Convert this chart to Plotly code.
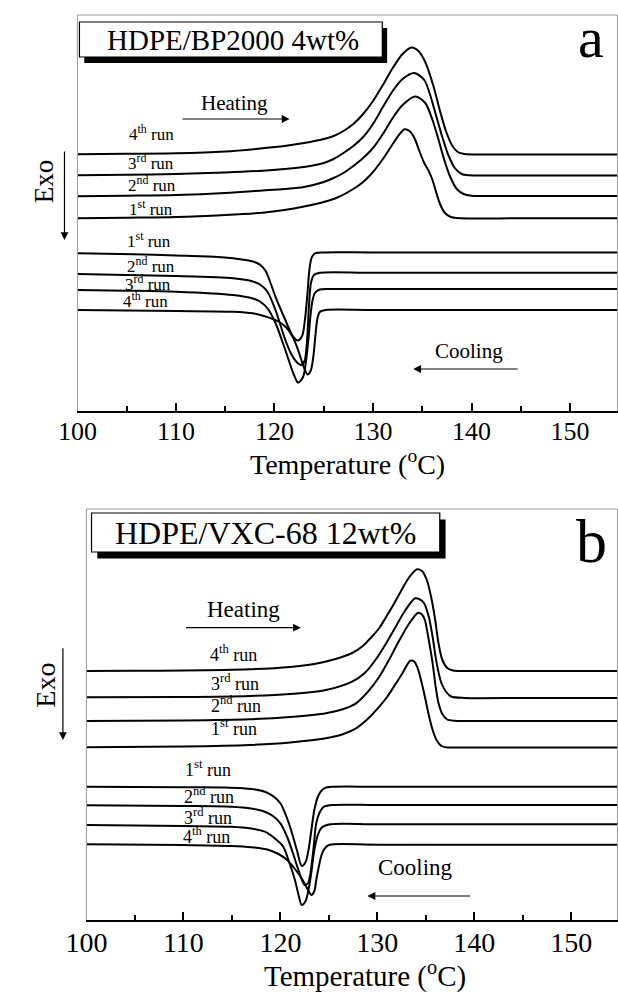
import plotly.graph_objects as go

W, H = 618, 993

# ---------------- Panel a : HDPE/BP2000 4wt% (heat flow, a.u.) ----------------
a_heat4_T = [100, 105, 110, 115, 118.8, 121, 123, 125, 126, 127, 128, 129, 130, 131, 132, 133, 133.9, 134.6, 135.3, 136.1, 136.8, 137.4, 138.0, 138.6, 139.3, 140.5, 145, 155]
a_heat4_y = [256.7, 257.2, 257.7, 259.5, 262.7, 265, 268, 272, 275, 280, 287, 297, 310, 326, 343, 357, 363.5, 360, 349, 326, 300, 280, 266, 259, 257, 256.5, 256.5, 256.5]
a_heat3_T = [100, 105, 110, 115, 118.8, 121, 123, 125, 126, 127, 128, 129, 130, 131, 132, 133, 134.2, 135.2, 135.8, 136.3, 137.0, 137.6, 138.3, 139.0, 139.8, 141, 145, 155]
a_heat3_y = [235.7, 236.3, 237, 238.5, 240.3, 242, 244, 248, 252, 258, 265, 274, 287, 304, 320, 332, 338, 331, 316, 299, 275, 257, 243, 237, 235.7, 235.5, 235.5, 235.5]
a_heat2_T = [100, 105, 110, 115, 118.8, 121, 123, 125, 126, 127, 128, 129, 130, 131, 132, 133, 134.3, 135.3, 136.0, 136.6, 137.2, 137.8, 138.5, 139.2, 140, 141, 145, 155]
a_heat2_y = [214.7, 215.3, 216, 218, 220.5, 222, 224, 229, 233, 238, 245, 253, 263, 277, 293, 306, 314.5, 308, 292, 273, 252, 235, 222, 217, 215.3, 215, 215, 215]
a_heat1_T = [100, 105, 110, 115, 118.8, 121, 123, 125, 126.5, 128, 129, 130, 131, 132, 132.7, 133.2, 133.7, 134.2, 134.7, 135.2, 135.6, 136.0, 136.4, 136.8, 137.3, 137.9, 138.9, 145, 155]
a_heat1_y = [192.7, 193.3, 194, 196, 198.3, 201, 204.5, 209, 214, 222, 229, 239, 252, 267, 277, 281.7, 280, 273, 260, 248, 241, 232, 219, 207, 198, 194, 192.7, 192.7, 192.7]

a_cool1_T = [100, 105.7, 110, 113.9, 115.8, 117.8, 118.5, 119.1, 119.6, 120.1, 121.1, 121.9, 122.35, 122.8, 123.1, 123.35, 123.55, 123.8, 124.2, 125, 130, 155]
a_cool1_y = [157.7, 156.7, 155.5, 154.3, 152.7, 149.5, 146.5, 140, 128, 114.3, 91, 74.3, 70.5, 75, 92, 118, 142, 154, 158, 158.6, 158.6, 158.6]
a_cool2_T = [100, 105, 110, 115.8, 117.8, 118.6, 119.3, 120.1, 121.1, 121.7, 122.2, 122.7, 123.05, 123.3, 123.5, 123.7, 124.0, 124.6, 130, 155]
a_cool2_y = [137, 136, 135, 132.7, 129.5, 126, 119, 101, 71, 57, 49.5, 46, 50, 70, 105, 128, 136, 138.3, 138.3, 138.3]
a_cool3_T = [100, 105, 110, 115.8, 117.8, 118.6, 119.3, 120.1, 121.1, 121.9, 122.4, 122.9, 123.2, 123.45, 123.65, 123.85, 124.1, 124.6, 125.5, 130, 155]
a_cool3_y = [121, 120.3, 119.3, 116, 112.5, 109, 102.5, 88, 61, 38, 28.3, 34, 50, 72, 95, 110, 118, 121.5, 122, 122, 122]
a_cool4_T = [100, 105, 110, 115.8, 117.8, 119.1, 120.4, 121.2, 121.8, 122.4, 122.9, 123.35, 123.7, 123.95, 124.15, 124.35, 124.6, 125.2, 130, 155]
a_cool4_y = [101, 100.6, 100, 99.3, 97.7, 94.5, 89.5, 83.5, 75, 61, 46, 36.5, 41, 55, 75, 92, 99, 101, 101, 101]

# ---------------- Panel b : HDPE/VXC-68 12wt% (heat flow, a.u.) ----------------
b_heat4_T = [100, 105, 110, 116.8, 121, 123.5, 125.5, 127.4, 128.5, 129.4, 130.2, 130.9, 131.7, 132.5, 133.3, 134.1, 134.6, 135.1, 135.5, 135.9, 136.3, 136.7, 137.2, 137.8, 139, 145, 155]
b_heat4_y = [249, 249.3, 249.5, 250.7, 253, 256, 260.5, 267, 274, 283, 292, 303, 316, 330, 343, 350.7, 349, 340, 325, 304, 277, 260, 252, 249.5, 249, 249, 249]
b_heat3_T = [100, 110, 116.8, 121, 124.7, 127.4, 128.7, 129.8, 130.8, 131.7, 132.9, 133.9, 134.4, 134.8, 135.3, 135.7, 136.0, 136.3, 136.6, 137.1, 137.6, 139, 145, 155]
b_heat3_y = [222.7, 223, 224, 226, 230, 238.3, 247, 260, 275, 290, 310, 321.7, 320.5, 317, 303.3, 283, 263.3, 248, 237, 228, 223.5, 222, 222, 222]
b_heat2_T = [100, 110, 116.8, 121, 124.7, 126.5, 127.8, 129, 130.2, 131.2, 132.1, 133.3, 134.2, 134.6, 134.9, 135.3, 135.7, 136.0, 136.3, 136.7, 137.2, 138, 139, 145, 155]
b_heat2_y = [199, 199.5, 200.7, 203, 206.7, 211, 216.7, 228, 243.3, 260, 276.7, 296.7, 307.3, 305.5, 300, 280, 256.7, 234, 217, 206, 200.5, 199.2, 199, 199, 199]
b_heat1_T = [100, 110, 116.8, 121, 124.7, 126.5, 127.8, 129, 130.2, 131, 131.7, 132.6, 133.4, 133.8, 134.1, 134.5, 134.9, 135.3, 135.7, 136.1, 136.6, 137.2, 138, 145, 155]
b_heat1_y = [172.7, 173.5, 175, 177.5, 181.7, 186, 191.7, 201, 213.3, 223, 233.3, 247, 259.3, 258.5, 253.3, 240, 223.3, 205, 190, 180, 174, 172.6, 172.5, 172.5, 172.5]

b_cool1_T = [100, 110, 114.9, 117, 118.4, 119.3, 120.0, 120.6, 121.1, 121.7, 122.2, 122.6, 122.9, 123.2, 123.5, 123.9, 124.3, 124.8, 125.6, 130, 155]
b_cool1_y = [133.3, 132.7, 132.3, 131, 128.3, 123.5, 116.7, 104, 90, 70, 54, 58, 70, 90, 110, 124, 130, 132.8, 133.3, 133.3, 133.3]
b_cool2_T = [100, 110, 114.9, 117, 118.4, 119.3, 120.0, 120.7, 121.3, 121.9, 122.5, 122.85, 123.1, 123.4, 123.7, 124.1, 124.5, 125.4, 130, 155]
b_cool2_y = [114.7, 114, 113.3, 111.5, 108.3, 103.5, 96.7, 83, 66.7, 49, 35, 37, 46.7, 70, 96.7, 108.5, 113.3, 115, 115, 115]
b_cool3_T = [100, 110, 114.9, 117, 118.4, 119.5, 120.3, 120.9, 121.5, 121.9, 122.2, 122.6, 122.9, 123.2, 123.5, 123.9, 124.3, 125.2, 130, 155]
b_cool3_y = [95, 94, 93.3, 91.5, 88.3, 81, 73.3, 58, 40, 24, 15, 19, 30, 48, 70, 86, 92.7, 95.7, 95.7, 95.7]
b_cool4_T = [100, 110, 114.9, 117, 118.8, 119.8, 120.7, 121.5, 122.3, 122.8, 123.2, 123.5, 123.7, 124.0, 124.3, 124.7, 125.1, 130, 155]
b_cool4_y = [75.7, 75, 74, 72.7, 70, 66, 60, 51, 40, 31, 25, 29, 40, 55, 66.7, 73, 75.3, 75.3, 75.3]

x_ticks = [100, 110, 120, 130, 140, 150]
x_tick_labels = ["100", "110", "120", "130", "140", "150"]
x_minor_ticks = [105, 115, 125, 135, 145]

panel_titles = ["HDPE/BP2000 4wt%", "HDPE/VXC-68 12wt%"]
panel_letters = ["a", "b"]
run_labels = ["1<sup>st</sup> run", "2<sup>nd</sup> run", "3<sup>rd</sup> run", "4<sup>th</sup> run"]

FONT = "Liberation Serif"


def P(px, py):
    return px / W, 1 - py / H


fig = go.Figure()

curves_a = [(a_heat1_T, a_heat1_y), (a_heat2_T, a_heat2_y), (a_heat3_T, a_heat3_y), (a_heat4_T, a_heat4_y),
            (a_cool1_T, a_cool1_y), (a_cool2_T, a_cool2_y), (a_cool3_T, a_cool3_y), (a_cool4_T, a_cool4_y)]
curves_b = [(b_heat1_T, b_heat1_y), (b_heat2_T, b_heat2_y), (b_heat3_T, b_heat3_y), (b_heat4_T, b_heat4_y),
            (b_cool1_T, b_cool1_y), (b_cool2_T, b_cool2_y), (b_cool3_T, b_cool3_y), (b_cool4_T, b_cool4_y)]

for T, y in curves_a:
    fig.add_trace(go.Scatter(x=T, y=y, mode="lines", xaxis="x", yaxis="y",
                             line=dict(color="black", width=2, shape="spline", smoothing=0.8),
                             showlegend=False, hoverinfo="skip"))
for T, y in curves_b:
    fig.add_trace(go.Scatter(x=T, y=y, mode="lines", xaxis="x2", yaxis="y2",
                             line=dict(color="black", width=2, shape="spline", smoothing=0.8),
                             showlegend=False, hoverinfo="skip"))

# panel geometry (pixels)
geo = {
    "a": dict(left=58.4, right=617.5, top=15, bottom=411, ymax=396, pxdeg=10.2, tickfs=26),
    "b": dict(left=67.7, right=617.5, top=509, bottom=920, ymax=411, pxdeg=10.04, tickfs=28),
}


def xaxis_cfg(g, anchor):
    return dict(
        domain=[g["left"] / W, g["right"] / W],
        range=[100, 100 + (g["right"] - g["left"]) / g["pxdeg"]],
        anchor=anchor,
        showline=True, linecolor="black", linewidth=2,
        ticks="inside", ticklen=8, tickwidth=1.5, tickcolor="black",
        tickvals=x_ticks, ticktext=x_tick_labels, ticklabelstandoff=-4,
        tickfont=dict(family=FONT, size=g["tickfs"], color="black"),
        minor=dict(tickvals=x_minor_ticks, ticks="inside", ticklen=5, tickwidth=1.5, tickcolor="black"),
        showgrid=False, zeroline=False, fixedrange=True,
    )


def yaxis_cfg(g, anchor):
    return dict(
        domain=[1 - g["bottom"] / H, 1 - g["top"] / H],
        range=[0, g["ymax"]], anchor=anchor,
        visible=False, showgrid=False, zeroline=False, fixedrange=True,
    )


shapes = []
annotations = []

for key in ("a", "b"):
    g = geo[key]
    # grey frame (top, left, right)
    for (x0, y0, x1, y1) in [(g["left"], g["top"], g["right"], g["top"]),
                             (g["left"], g["top"], g["left"], g["bottom"]),
                             (g["right"], g["top"], g["right"], g["bottom"])]:
        px0, py0 = P(x0, y0)
        px1, py1 = P(x1, y1)
        shapes.append(dict(type="line", xref="paper", yref="paper", x0=px0, y0=py0, x1=px1, y1=py1,
                           line=dict(color="#9a9a9a", width=1)))

# title boxes: shadow + white box
boxes = {
    "a": dict(x0=60.5, y0=22, x1=374, y1=57, dx=5, dy=6, tx=219, ty=40, fs=29),
    "b": dict(x0=73, y0=513, x1=433.5, y1=552, dx=6, dy=6.5, tx=253, ty=533, fs=32),
}
for i, key in enumerate(("a", "b")):
    bx = boxes[key]
    sx0, sy0 = P(bx["x0"] + bx["dx"], bx["y0"] + bx["dy"])
    sx1, sy1 = P(bx["x1"] + bx["dx"], bx["y1"] + bx["dy"])
    shapes.append(dict(type="rect", xref="paper", yref="paper", x0=sx0, y0=sy0, x1=sx1, y1=sy1,
                       fillcolor="black", line=dict(width=0)))
    wx0, wy0 = P(bx["x0"], bx["y0"])
    wx1, wy1 = P(bx["x1"], bx["y1"])
    shapes.append(dict(type="rect", xref="paper", yref="paper", x0=wx0, y0=wy0, x1=wx1, y1=wy1,
                       fillcolor="white", line=dict(color="black", width=1.2)))
    tx, ty = P(bx["tx"], bx["ty"])
    annotations.append(dict(text=panel_titles[i], x=tx, y=ty, xref="paper", yref="paper",
                            showarrow=False, xanchor="center", yanchor="middle",
                            font=dict(family=FONT, size=bx["fs"], color="black")))


def text(t, px, py, size, angle=0):
    x, y = P(px, py)
    annotations.append(dict(text=t, x=x, y=y, xref="paper", yref="paper", showarrow=False,
                            xanchor="center", yanchor="middle", textangle=angle,
                            font=dict(family=FONT, size=size, color="black")))


def arrow(hx, hy, tx, ty):
    x, y = P(hx, hy)
    annotations.append(dict(text="", x=x, y=y, xref="paper", yref="paper", showarrow=True,
                            ax=tx - hx, ay=ty - hy, axref="pixel", ayref="pixel",
                            arrowhead=2, arrowsize=1.3, arrowwidth=1.2, arrowcolor="black"))


# letters
text(panel_letters[0], 590, 38, 58)
text(panel_letters[1], 591, 541, 62)

# Panel a texts
text("Heating", 221, 103, 21)
arrow(278, 119, 169.5, 119)
text("Cooling", 464, 351, 21)
arrow(406, 369, 512, 369)
text("Exo", 24, 181, 27, angle=-90)
arrow(45, 240, 45, 150)
for lbl, (px, py) in zip(run_labels, [(135, 208), (136, 184), (135, 162), (135, 133)]):
    text(lbl, px, py, 17)
for lbl, (px, py) in zip(run_labels, [(132, 240), (134.5, 265), (131.5, 283), (129, 300)]):
    text(lbl, px, py, 17)
text("Temperature (<sup>o</sup>C)", 338, 462, 28)

# Panel b texts
text("Heating", 230, 609, 23)
arrow(289.7, 627.7, 173.4, 627.7)
text("Cooling", 408, 867, 23)
arrow(358.7, 896, 463, 896)
text("Exo", 24.5, 685, 28, angle=-90)
arrow(43.4, 740, 43.4, 646.7)
for lbl, (px, py) in zip(run_labels, [(221, 727), (223, 704), (221.7, 682), (219.5, 653)]):
    text(lbl, px, py, 18)
for lbl, (px, py) in zip(run_labels, [(193.5, 768), (195, 795.5), (194, 816.5), (192, 835)]):
    text(lbl, px, py, 18)
text("Temperature (<sup>o</sup>C)", 356, 974, 29)

fig.update_layout(
    width=W, height=H,
    margin=dict(l=0, r=0, t=0, b=0, pad=0),
    paper_bgcolor="white", plot_bgcolor="white",
    xaxis=xaxis_cfg(geo["a"], "y"),
    yaxis=yaxis_cfg(geo["a"], "x"),
    xaxis2=xaxis_cfg(geo["b"], "y2"),
    yaxis2=yaxis_cfg(geo["b"], "x2"),
    shapes=shapes,
    annotations=annotations,
    showlegend=False,
)

fig.write_html("out.html")
